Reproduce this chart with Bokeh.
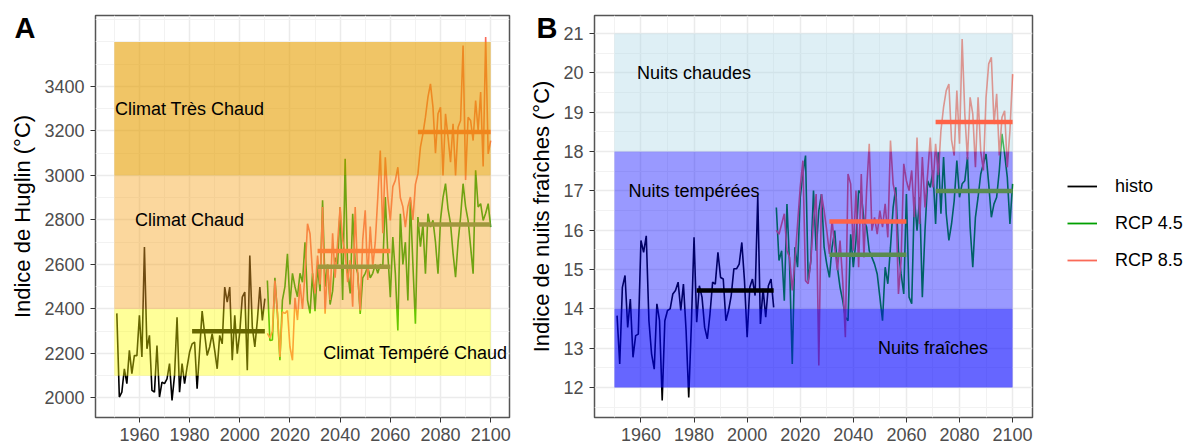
from bokeh.plotting import figure
from bokeh.models import Range1d, FixedTicker, Label, Legend, LegendItem, LinearAxis
from bokeh.layouts import row
from bokeh.embed import file_html
from bokeh.resources import INLINE

# ---------------- data ----------------
hist_years = list(range(1951, 2011))
rcp_years = list(range(2011, 2101))

huglin_histo = [2380, 2004, 2026, 2131, 2064, 2214, 2109, 2191, 2190, 2371,
                2184, 2678, 2221, 2281, 2034, 2026, 2236, 2004, 2071, 2064,
                2086, 2154, 1989, 2101, 2363, 2026, 2154, 2064, 2139, 2206,
                2243, 2251, 2041, 2214, 2390, 2289, 2191, 2229, 2289, 2214,
                2131, 2281, 2243, 2498, 2431, 2498, 2169, 2371, 2199, 2296,
                2453, 2476, 2124, 2640, 2318, 2229, 2348, 2498, 2348, 2446]
huglin_rcp45 = [2528, 2258, 2260, 2540, 2380, 2170, 2440, 2500, 2648, 2420,
                2560, 2500, 2455, 2560, 2520, 2700, 2440, 2380, 2560, 2390,
                2590, 2480, 2888, 2500, 2600, 2420, 2480, 2630, 2600, 2858,
                2440, 3075, 2570, 2470, 2828, 2600, 2560, 2378, 2540, 2560,
                2590, 2540, 2560, 2600, 2560, 2600, 2590, 2903, 2650, 2453,
                2723, 2560, 2303, 2828, 2600, 2700, 2438, 2888, 2600, 2333,
                2813, 2680, 2780, 2558, 2828, 2768, 2798, 2700, 2558, 2800,
                2900, 2963, 2850, 2783, 2650, 2543, 2700, 2813, 2963, 2860,
                2798, 2680, 2558, 3023, 2858, 2873, 2798, 2830, 2873, 2768]
huglin_rcp85 = [2290, 2270, 2300, 2528, 2384, 2184, 2386, 2380, 2393, 2230,
                2169, 2450, 2350, 2513, 2400, 2560, 2783, 2738, 2560, 2470,
                2640, 2510, 2858, 2378, 2600, 2440, 2740, 2540, 2700, 2858,
                2710, 2650, 2520, 2620, 2410, 2858, 2550, 2393, 2710, 2843,
                2530, 2770, 2590, 2700, 2900, 3112, 2740, 3082, 2900, 2798,
                2950, 2978, 3037, 2900, 2860, 2768, 2860, 2903, 2800, 2960,
                3007, 3127, 3187, 3262, 3352, 3412, 3307, 3100, 3277, 3307,
                3000, 3277, 3172, 3060, 3232, 3000, 3217, 3247, 3584, 2980,
                3262, 3247, 3157, 3337, 3202, 3375, 3040, 3622, 3097, 3157]

nuits_histo = [13.83, 12.6, 14.55, 14.85, 13.53, 14.25, 12.77, 13.32, 13.36, 15.74,
               15.44, 15.86, 13.7, 12.86, 12.47, 14.13, 13.7, 11.67, 13.7, 13.96,
               14.0, 14.38, 14.47, 14.68, 13.96, 14.63, 13.45, 11.75, 13.62, 15.82,
               13.66, 14.59, 14.3, 13.53, 13.24, 13.87, 14.68, 14.63, 15.44, 14.8,
               14.76, 13.7, 13.96, 14.34, 15.02, 15.02, 15.14, 15.69, 14.72, 13.28,
               14.55, 14.76, 14.34, 16.88, 13.62, 14.51, 13.79, 14.59, 14.76, 14.04]
nuits_rcp45 = [16.58, 15.23, 15.48, 14.21, 16.67, 15.1, 12.6, 15.57, 15.06, 16.84,
               17.43, 17.9, 14.72, 15.23, 17.01, 15.48, 16.5, 16.92, 15.57, 15.14,
               14.8, 15.57, 15.99, 15.06, 14.55, 14.21, 13.79, 13.7, 15.9, 15.06,
               15.74, 17.01, 16.92, 16.25, 16.08, 15.48, 15.31, 15.14, 14.89, 14.3,
               13.7, 15.06, 14.64, 15.57, 16.58, 17.09, 15.48, 14.89, 14.38, 16.92,
               14.3, 14.13, 16.84, 15.99, 16.84, 14.3, 15.99, 17.26, 17.09, 17.52,
               16.16, 17.98, 16.42, 17.86, 16.42, 15.74, 16.16, 16.75, 17.77, 16.84,
               17.18, 17.26, 17.86, 16.08, 15.06, 16.33, 16.84, 17.43, 17.69, 17.94,
               17.18, 16.33, 16.67, 16.84, 17.52, 18.45, 17.94, 17.35, 16.16, 17.18]
nuits_rcp85 = [16.0, 15.9, 16.16, 16.42, 15.48, 15.31, 14.47, 15.23, 16.16, 17.09,
               17.77, 14.72, 14.64, 15.23, 16.25, 16.92, 12.56, 16.92, 16.5, 15.99,
               15.4, 16.25, 15.57, 14.98, 15.74, 14.72, 13.28, 17.43, 17.18, 15.48,
               17.01, 15.06, 17.43, 15.31, 17.01, 18.2, 15.99, 16.33, 15.9, 16.5,
               16.08, 16.67, 15.82, 18.28, 17.18, 16.84, 14.38, 15.23, 17.69, 17.26,
               17.01, 17.52, 16.33, 18.36, 16.16, 17.86, 16.58, 17.43, 18.36, 17.09,
               18.2, 17.4, 18.53, 19.13, 19.55, 19.72, 18.3, 17.9, 19.55, 18.2,
               20.86, 18.96, 17.8, 19.38, 18.96, 17.6, 19.38, 18.0, 17.52, 19.38,
               20.23, 20.4, 18.7, 19.47, 17.9, 18.87, 19.04, 17.6, 18.53, 19.97]

# 30-year means: reference period and two future periods
hist_period = (1981, 2010)
fut_periods = [(2031, 2060), (2071, 2100)]
huglin_mean_histo = 2300
huglin_mean_rcp45 = [2590, 2780]
huglin_mean_rcp85 = [2660, 3195]
nuits_mean_histo = 14.47
nuits_mean_rcp45 = [15.38, 17.0]
nuits_mean_rcp85 = [16.22, 18.75]

# class bands
band_span = (1950, 2100)
huglin_bands = ["Climat Tempéré Chaud", "Climat Chaud", "Climat Très Chaud"]
huglin_bottom = [2100, 2400, 3000]
huglin_top = [2400, 3000, 3600]
huglin_label_x = [2070, 1980, 1980]
huglin_label_y = [2200, 2800, 3300]

nuits_bands = ["Nuits fraîches", "Nuits tempérées", "Nuits chaudes"]
nuits_bottom = [12, 14, 18]
nuits_top = [14, 18, 21]
nuits_label_x = [2070, 1980, 1980]
nuits_label_y = [13, 17, 20]

x_major = list(range(1960, 2101, 20))
x_minor = list(range(1950, 2100, 20))
huglin_major = list(range(2000, 3401, 200))
huglin_minor = list(range(2100, 3400, 200)) + [3500, 3600, 3700]
nuits_major = list(range(12, 22))
nuits_minor = [v + 0.5 for v in range(11, 21)]

series_names = ["histo", "RCP 4.5", "RCP 8.5"]
panel_tags = ["A", "B"]

# ---------------- styles ----------------
FONT = "Liberation Sans"
C_HIST = "black"
C_45 = "#00A000"
C_85 = "#FA6A58"
C_MEAN45 = "#5A8C50"
C_MEAN85 = "#FF6347"
H = 448


def style(p, xmaj, xmin, ymaj, ymin, ylabel):
    p.xaxis.ticker = FixedTicker(ticks=xmaj, minor_ticks=xmin)
    p.yaxis.ticker = FixedTicker(ticks=ymaj, minor_ticks=ymin)
    p.xgrid.grid_line_color = "#EBEBEB"
    p.ygrid.grid_line_color = "#EBEBEB"
    p.xgrid.grid_line_width = 1.5
    p.ygrid.grid_line_width = 1.5
    p.xgrid.minor_grid_line_color = "#F2F2F2"
    p.ygrid.minor_grid_line_color = "#F2F2F2"
    p.xgrid.minor_grid_line_width = 1
    p.ygrid.minor_grid_line_width = 1
    for ax in (p.xaxis[0], p.yaxis[0]):
        ax.axis_line_color = None
        ax.major_tick_line_color = "#333333"
        ax.major_tick_line_width = 1
        ax.major_tick_out = 5
        ax.major_tick_in = 0
        ax.minor_tick_line_color = None
        ax.major_label_text_font = FONT
        ax.major_label_text_font_size = "18px"
        ax.major_label_text_color = "#4D4D4D"
    p.xaxis.major_label_standoff = 5
    p.yaxis.major_label_standoff = 6
    p.yaxis.axis_label = ylabel
    p.yaxis.axis_label_text_font = FONT
    p.yaxis.axis_label_text_font_size = "22px"
    p.yaxis.axis_label_text_font_style = "normal"
    p.yaxis.axis_label_text_color = "black"
    p.yaxis.axis_label_standoff = 6
    p.outline_line_color = "#555555"
    p.outline_line_width = 1.5
    p.background_fill_color = "white"
    p.border_fill_color = "white"


def tag_axis(p, tag, y_at, standoff):
    # panel tag drawn as the single label of an extra, invisible left axis
    ax = LinearAxis(ticker=FixedTicker(ticks=[y_at]), major_label_overrides={y_at: tag},
                    axis_line_color=None, major_tick_line_color=None, minor_tick_line_color=None,
                    major_tick_out=0, major_tick_in=0, major_label_standoff=standoff,
                    major_label_text_font=FONT, major_label_text_font_size="29px",
                    major_label_text_font_style="bold", major_label_text_color="black")
    p.add_layout(ax, "left")


def text(p, x, y, s):
    p.add_layout(Label(x=x, y=y, text=s, text_font=FONT, text_font_size="18px",
                       text_align="center", text_baseline="middle", text_color="black"))


# ---------------- panel A ----------------
pA = figure(width=520, height=H, output_backend="svg", toolbar_location=None,
            x_range=Range1d(1942.5, 2107.5), y_range=Range1d(1912, 3719),
            min_border_left=95, min_border_right=11, min_border_top=15, min_border_bottom=31)
style(pA, x_major, x_minor, huglin_major, huglin_minor, "Indice de Huglin (°C)")

pA.line(hist_years, huglin_histo, line_color=C_HIST, line_width=1.6)
pA.line(rcp_years, huglin_rcp45, line_color=C_45, line_width=1.6)
pA.line(rcp_years, huglin_rcp85, line_color=C_85, line_width=1.6)
pA.segment(x0=[hist_period[0]], x1=[hist_period[1]], y0=[huglin_mean_histo], y1=[huglin_mean_histo],
           line_color=C_HIST, line_width=4.5)
pA.segment(x0=[a for a, b in fut_periods], x1=[b for a, b in fut_periods],
           y0=huglin_mean_rcp45, y1=huglin_mean_rcp45, line_color=C_MEAN45, line_width=4.5)
pA.segment(x0=[a for a, b in fut_periods], x1=[b for a, b in fut_periods],
           y0=huglin_mean_rcp85, y1=huglin_mean_rcp85, line_color=C_MEAN85, line_width=4.5)

band_colors_A = ["#FFFF00", "#F7A626", "#E69F00"]
band_alpha_A = [0.4, 0.45, 0.6]
for i in range(3):
    pA.quad(left=[band_span[0]], right=[band_span[1]], bottom=[huglin_bottom[i]], top=[huglin_top[i]],
            fill_color=band_colors_A[i], fill_alpha=band_alpha_A[i], line_color=None)
for i in range(3):
    text(pA, huglin_label_x[i], huglin_label_y[i], huglin_bands[i])
tag_axis(pA, panel_tags[0], 3663, -28)

# ---------------- panel B ----------------
pB = figure(width=514, height=H, output_backend="svg", toolbar_location=None,
            x_range=Range1d(1942.5, 2107.5), y_range=Range1d(11.24, 21.46),
            min_border_left=74, min_border_right=2, min_border_top=15, min_border_bottom=31)
style(pB, x_major, x_minor, nuits_major, nuits_minor, "Indice de nuits fraîches (°C)")

pB.line(hist_years, nuits_histo, line_color=C_HIST, line_width=1.6)
pB.line(rcp_years, nuits_rcp45, line_color=C_45, line_width=1.6)
pB.line(rcp_years, nuits_rcp85, line_color=C_85, line_width=1.6)

band_colors_B = ["#0000FF", "#0000FF", "#ADD8E6"]
band_alpha_B = [0.6, 0.4, 0.4]
for i in range(3):
    pB.quad(left=[band_span[0]], right=[band_span[1]], bottom=[nuits_bottom[i]], top=[nuits_top[i]],
            fill_color=band_colors_B[i], fill_alpha=band_alpha_B[i], line_color=None)

pB.segment(x0=[hist_period[0]], x1=[hist_period[1]], y0=[nuits_mean_histo], y1=[nuits_mean_histo],
           line_color=C_HIST, line_width=4.5)
pB.segment(x0=[a for a, b in fut_periods], x1=[b for a, b in fut_periods],
           y0=nuits_mean_rcp45, y1=nuits_mean_rcp45, line_color=C_MEAN45, line_width=4.5)
pB.segment(x0=[a for a, b in fut_periods], x1=[b for a, b in fut_periods],
           y0=nuits_mean_rcp85, y1=nuits_mean_rcp85, line_color=C_MEAN85, line_width=4.5)

for i in range(3):
    text(pB, nuits_label_x[i], nuits_label_y[i], nuits_bands[i])
tag_axis(pB, panel_tags[1], 21.142, -31)

# ---------------- legend (own canvas to the right of panel B) ----------------
pL = figure(width=156, height=H, output_backend="svg", toolbar_location=None,
            x_range=Range1d(0, 1), y_range=Range1d(0, 1), min_border=0)
pL.axis.visible = False
pL.grid.visible = False
pL.outline_line_color = None
pL.background_fill_color = "white"
pL.border_fill_color = "white"
key_colors = [C_HIST, C_45, C_85]
# key-only renderers: their two points lie outside this canvas' visible range
keys = [pL.line([-2, -1], [-2, -1], line_color=c, line_width=1.8) for c in key_colors]
legend = Legend(items=[LegendItem(label=series_names[i], renderers=[keys[i]]) for i in range(3)],
                location=(33, 142), label_text_font=FONT, label_text_font_size="18px",
                label_text_color="black", glyph_width=30, glyph_height=30, label_height=30,
                spacing=7, padding=10, margin=0, label_standoff=18,
                border_line_color=None, background_fill_alpha=0)
pL.add_layout(legend)

layout = row(pA, pB, pL)
open("out.html", "w").write(file_html(layout, INLINE))
